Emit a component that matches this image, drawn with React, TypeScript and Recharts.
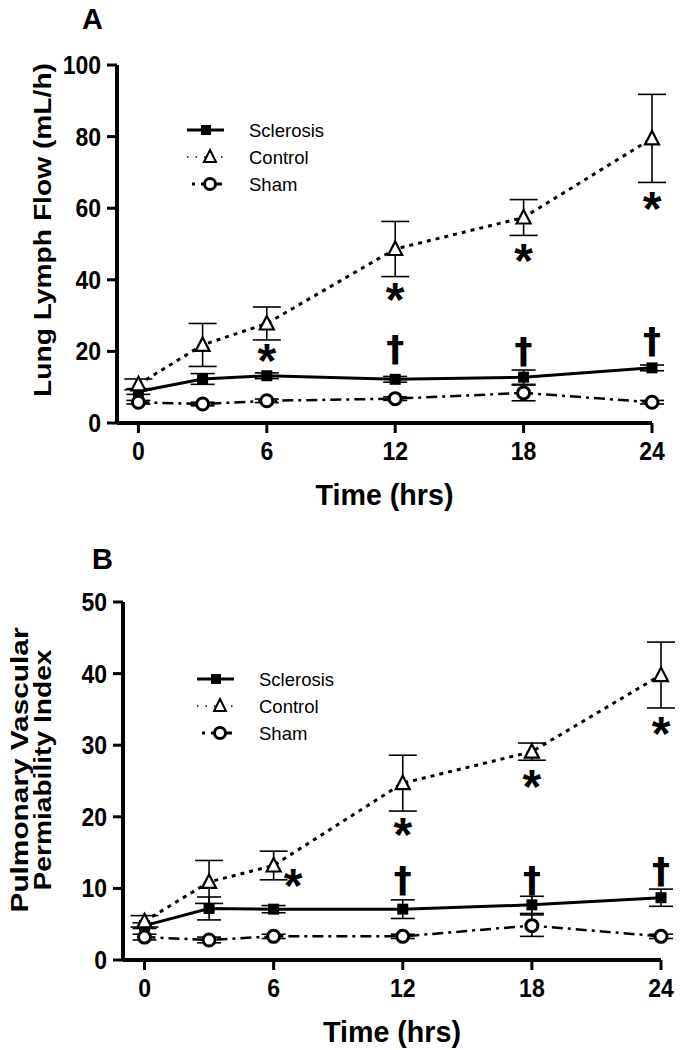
import React from 'react';
import { ComposedChart, Line, Scatter, XAxis, YAxis, ErrorBar, Legend } from 'recharts';

const FONT = '"Liberation Sans", Arial, sans-serif';

const hours = [0, 3, 6, 12, 18, 24];
const timeTicks = [0, 6, 12, 18, 24];
const seriesNames = ['Sclerosis', 'Control', 'Sham'];

// Panel A: lung lymph flow (mL/h)
const flowSclerosis = [8.8, 12.3, 13.2, 12.2, 12.8, 15.4];
const flowSclerosisErr = [0.8, 1.5, 0.8, 0.8, 2, 0.8];
const flowControl = [10.8, 21.8, 27.8, 48.6, 57.4, 79.5];
const flowControlErr = [1.5, 6, 4.6, 7.7, 5, 12.3];
const flowSham = [5.8, 5.3, 6.2, 6.8, 8.4, 5.8];
const flowShamErr = [0.5, 0.5, 0.5, 0.5, 2.2, 0.5];
const flowTicks = [0, 20, 40, 60, 80, 100];
const flowMarkTimes = [6, 12, 18, 24, 12, 18, 24];
const flowMarkValues = [20, 37.2, 48, 62.6, 20.4, 19.8, 22.6];
const flowMarkSymbols = ['*', '*', '*', '*', '†', '†', '†'];

// Panel B: pulmonary vascular permeability index
const pvpiSclerosis = [4.8, 7.2, 7.1, 7.1, 7.7, 8.7];
const pvpiSclerosisErr = [0.4, 1.6, 0.5, 1.3, 1.2, 1.2];
const pvpiControl = [5.4, 10.9, 13.2, 24.7, 29.1, 39.8];
const pvpiControlErr = [0.8, 3, 2, 3.9, 1.2, 4.6];
const pvpiSham = [3.2, 2.8, 3.3, 3.3, 4.8, 3.3];
const pvpiShamErr = [0.4, 0.4, 0.3, 0.3, 1.5, 0.3];
const pvpiTicks = [0, 10, 20, 30, 40, 50];
const pvpiMarkTimes = [6.9, 12, 18, 24, 12, 18, 24];
const pvpiMarkValues = [11.8, 18.8, 25.6, 33, 11, 11.1, 12.3];
const pvpiMarkSymbols = ['*', '*', '*', '*', '†', '†', '†'];

const buildRows = (sc: number[], scE: number[], ct: number[], ctE: number[], sh: number[], shE: number[]) =>
  hours.map((t, i) => ({ t, sc: sc[i], scErr: scE[i], ct: ct[i], ctErr: ctE[i], sh: sh[i], shErr: shE[i] }));

const buildMarks = (ts: number[], vs: number[], syms: string[]) =>
  ts.map((t, i) => ({ t, v: vs[i], sym: syms[i] }));

const Square = (p: any) => <rect key={p.key} x={p.cx - 5.5} y={p.cy - 5.5} width={11} height={11} fill="#000" />;
const Triangle = (p: any) => (
  <polygon
    key={p.key}
    points={`${p.cx},${p.cy - 7.5} ${p.cx + 7},${p.cy + 6} ${p.cx - 7},${p.cy + 6}`}
    fill="#fff"
    stroke="#000"
    strokeWidth={2.2}
  />
);
const Circle = (p: any) => <circle key={p.key} cx={p.cx} cy={p.cy} r={6} fill="#fff" stroke="#000" strokeWidth={3} />;

const Mark = (p: any) => {
  const star = p.payload.sym === '*';
  return (
    <text
      x={p.cx}
      y={star ? p.cy + 26 : p.cy + 11}
      textAnchor="middle"
      fontFamily={star ? FONT : '"DejaVu Sans", sans-serif'}
      fontWeight="bold"
      fontSize={star ? 48 : 36}
      fill="#000"
    >
      {p.payload.sym}
    </text>
  );
};

const XTick = ({ x, y, payload }: any) => (
  <text transform={`translate(${x},${y + 25}) scale(0.92,1)`} textAnchor="middle" fontFamily={FONT} fontWeight="bold" fontSize={25} fill="#000">
    {payload.value}
  </text>
);
const YTick = ({ x, y, payload }: any) => (
  <text transform={`translate(${x - 4},${y + 9}) scale(0.92,1)`} textAnchor="end" fontFamily={FONT} fontWeight="bold" fontSize={25} fill="#000">
    {payload.value}
  </text>
);

const LegendBox = () => (
  <svg width={200} height={92}>
    <line x1={7} y1={20} x2={44} y2={20} stroke="#000" strokeWidth={3} />
    <rect x={21} y={15} width={10} height={10} fill="#000" />
    <line x1={7} y1={47} x2={44} y2={47} stroke="#000" strokeWidth={1.5} strokeDasharray="1.5 7" />
    <polygon points="30,40 36,52 24,52" fill="#fff" stroke="#000" strokeWidth={2} />
    <line x1={12} y1={74} x2={42} y2={74} stroke="#000" strokeWidth={3} strokeDasharray="3 6 30" />
    <circle cx={30} cy={74} r={5.5} fill="#fff" stroke="#000" strokeWidth={3} />
    {seriesNames.map((n, i) => (
      <text key={n} x={69} y={26.5 + i * 27} fontFamily={FONT} fontSize={18.5} fill="#000">
        {n}
      </text>
    ))}
  </svg>
);

interface PanelProps {
  letter: string;
  letterPos: [number, number];
  rows: any[];
  marks: any[];
  yMax: number;
  yTicks: number[];
  margin: { top: number; right: number; bottom: number; left: number };
  yWidth: number;
  yLabel: string[];
  yLabelX: number[];
  yLabelY: number;
  yLabelLen: number[];
  xLabelPos: [number, number];
  legendPos: [number, number];
}

const Panel = (p: PanelProps) => (
  <ComposedChart width={696} height={525} data={p.rows} margin={p.margin}>
    <XAxis
      dataKey="t"
      type="number"
      domain={[-1, 24]}
      ticks={timeTicks}
      tick={XTick}
      tickSize={10}
      tickLine={{ stroke: '#000', strokeWidth: 3 }}
      axisLine={{ stroke: '#000', strokeWidth: 4 }}
      height={40}
      label={() => (
        <text transform={`translate(${p.xLabelPos[0]},${p.xLabelPos[1]})`} textAnchor="middle" fontFamily={FONT} fontWeight="bold" fontSize={30} textLength={138} lengthAdjust="spacingAndGlyphs" fill="#000">
          Time (hrs)
        </text>
      )}
    />
    <YAxis
      type="number"
      domain={[0, p.yMax]}
      ticks={p.yTicks}
      tick={YTick}
      tickSize={10}
      width={p.yWidth}
      tickLine={{ stroke: '#000', strokeWidth: 3 }}
      axisLine={{ stroke: '#000', strokeWidth: 4 }}
      label={() => (
        <g>
          <text x={p.letterPos[0]} y={p.letterPos[1]} textAnchor="middle" fontFamily={FONT} fontWeight="bold" fontSize={29} fill="#000">
            {p.letter}
          </text>
          {p.yLabel.map((s, i) => (
            <text
              key={s}
              transform={`translate(${p.yLabelX[i]},${p.yLabelY}) rotate(-90)`}
              textAnchor="middle"
              fontFamily={FONT}
              fontWeight="bold"
              fontSize={24}
              textLength={p.yLabelLen[i]}
              lengthAdjust="spacingAndGlyphs"
              fill="#000"
            >
              {s}
            </text>
          ))}
        </g>
      )}
    />
    <Legend
      layout="vertical"
      align="center"
      verticalAlign="middle"
      content={LegendBox}
      wrapperStyle={{ left: p.legendPos[0], top: p.legendPos[1], width: 200, height: 92 }}
    />
    <Line dataKey="sh" stroke="#000" strokeWidth={2.5} strokeDasharray="11 5 3 5" dot={Circle} isAnimationActive={false}>
      <ErrorBar dataKey="shErr" width={12} stroke="#000" strokeWidth={1.6} direction="y" />
    </Line>
    <Line dataKey="sc" stroke="#000" strokeWidth={3} dot={Square} isAnimationActive={false}>
      <ErrorBar dataKey="scErr" width={12} stroke="#000" strokeWidth={1.6} direction="y" />
    </Line>
    <Line dataKey="ct" stroke="#000" strokeWidth={3} strokeDasharray="4 5" dot={Triangle} isAnimationActive={false}>
      <ErrorBar dataKey="ctErr" width={14} stroke="#000" strokeWidth={1.6} direction="y" />
    </Line>
    <Scatter data={p.marks} dataKey="v" shape={Mark} isAnimationActive={false} />
  </ComposedChart>
);

export default function App() {
  return (
    <div style={{ position: 'absolute', left: 0, top: 0, width: 696, height: 1050, background: '#fff' }}>
      <Panel
        letter="A"
        letterPos={[92.5, 29]}
        rows={buildRows(flowSclerosis, flowSclerosisErr, flowControl, flowControlErr, flowSham, flowShamErr)}
        marks={buildMarks(flowMarkTimes, flowMarkValues, flowMarkSymbols)}
        yMax={100}
        yTicks={flowTicks}
        margin={{ top: 65, right: 44, bottom: 62, left: 0 }}
        yWidth={117}
        yLabel={['Lung Lymph Flow (mL/h)']}
        yLabelX={[51]}
        yLabelY={230}
        yLabelLen={[334]}
        xLabelPos={[384.5, 505]}
        legendPos={[180, 110]}
      />
      <Panel
        letter="B"
        letterPos={[102.5, 44]}
        rows={buildRows(pvpiSclerosis, pvpiSclerosisErr, pvpiControl, pvpiControlErr, pvpiSham, pvpiShamErr)}
        marks={buildMarks(pvpiMarkTimes, pvpiMarkValues, pvpiMarkSymbols)}
        yMax={50}
        yTicks={pvpiTicks}
        margin={{ top: 77, right: 35, bottom: 50, left: 0 }}
        yWidth={123}
        yLabel={['Pulmonary Vascular', 'Permiability Index']}
        yLabelX={[28, 51]}
        yLabelY={245}
        yLabelLen={[285, 241]}
        xLabelPos={[392, 517]}
        legendPos={[190, 134]}
      />
    </div>
  );
}
